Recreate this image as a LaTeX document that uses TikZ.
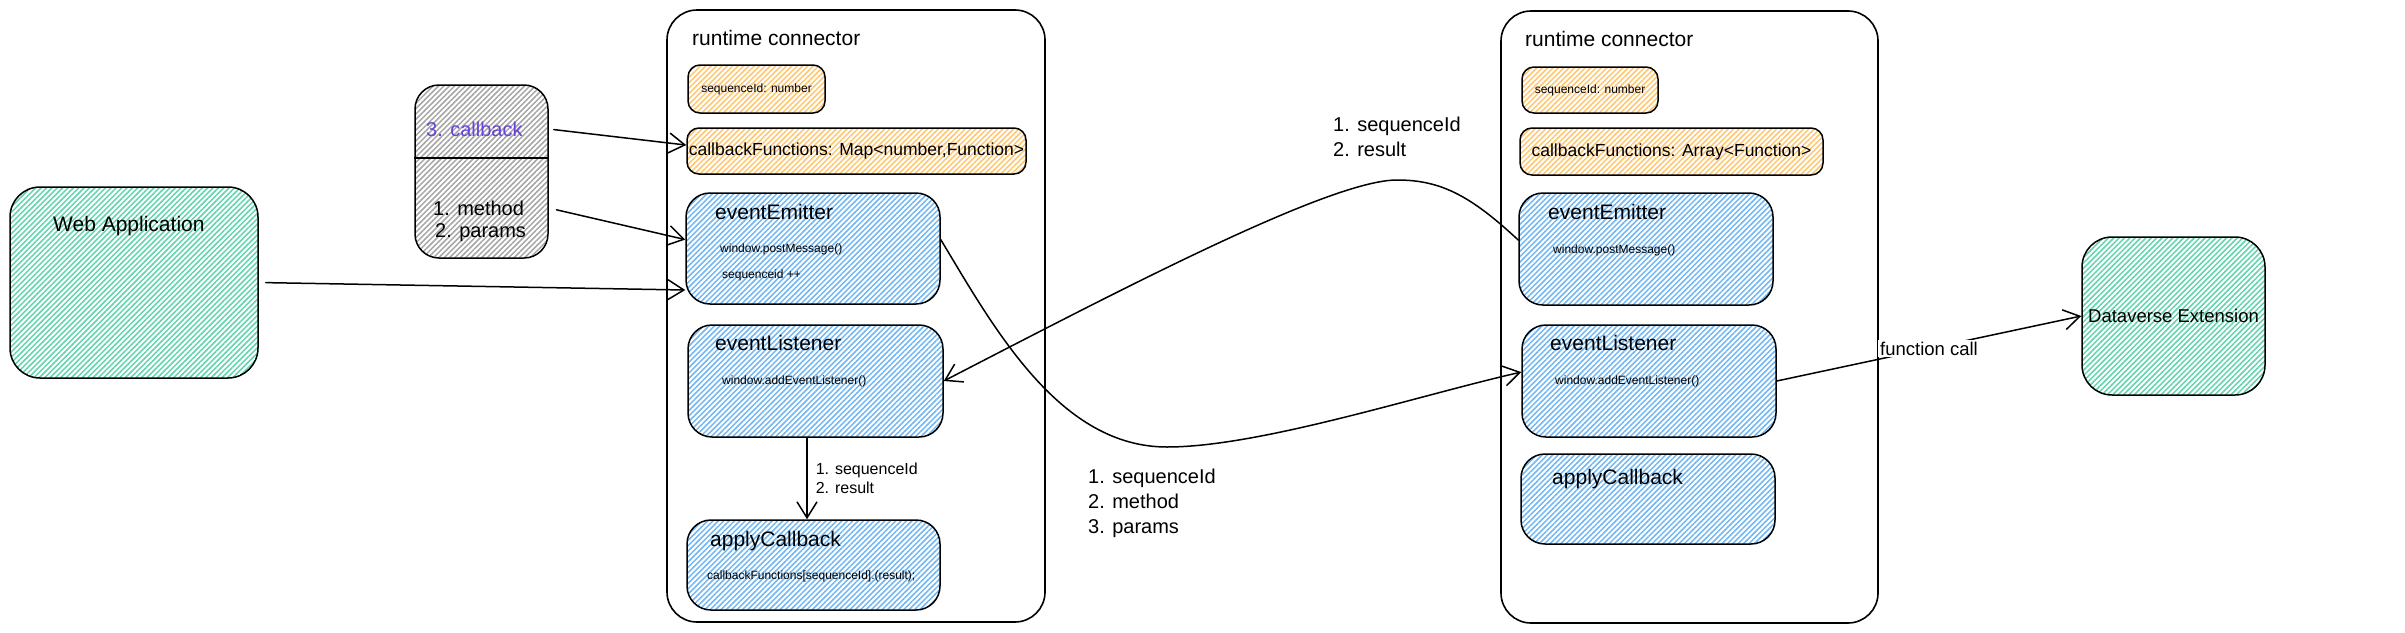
\documentclass[tikz,border=0pt]{standalone}
\usepackage{fontspec}
\setmainfont{Liberation Sans}
\usetikzlibrary{positioning, arrows.meta, patterns.meta}

\definecolor{hatchgreen}{RGB}{95,212,172}
\definecolor{hatchblue}{RGB}{112,182,243}
\definecolor{hatchorange}{RGB}{255,198,110}
\definecolor{hatchgrey}{RGB}{165,165,165}
\definecolor{cbpurple}{RGB}{103,65,217}

\newcommand{\titlefont}{\fontsize{21}{26}\selectfont}
\newcommand{\labelfont}{\fontsize{20}{25}\selectfont}
\newcommand{\fieldfont}{\fontsize{17.5}{21}\selectfont}
\newcommand{\midfont}{\fontsize{16}{19}\selectfont}
\newcommand{\codefont}{\fontsize{12}{15}\selectfont}

\tikzset{
	box/.style={draw, line width=1.5pt, rounded corners=22pt, inner sep=0pt},
	hatch/.style={pattern={Lines[angle=45,distance=3.8pt,line width=1.5pt]}, pattern color=#1},
	appbox/.style={box, hatch=hatchgreen, rounded corners=30pt},
	msgbox/.style={box, hatch=hatchgrey, rounded corners=24pt},
	fieldbox/.style={box, hatch=hatchorange, rounded corners=12pt, font=\fieldfont},
	funcbox/.style={box, hatch=hatchblue, rounded corners=24pt},
	connbox/.style={box, line width=1.6pt, rounded corners=30pt},
	txt/.style={inner sep=0pt, anchor=west, align=left},
	arr/.style={-{Straight Barb[length=16pt,width=20pt,line width=1.5pt]}, line width=1.5pt, line cap=round},
}

\begin{document}
\begin{tikzpicture}[x=1pt, y=-1pt]
	\useasboundingbox (0,0) rectangle (2405,632);

	% outside parties
	\node[appbox, minimum width=248pt, minimum height=191pt] (web) at (134,282.5) {};
	\node[txt, font=\titlefont] (webtitle) at (53,226) {Web Application};
	\node[appbox, minimum width=183pt, minimum height=158pt, font=\fontsize{18.5}{22}\selectfont] (dv) at (2173.5,316) {Dataverse Extension};

	% message passed in
	\node[msgbox, minimum width=133pt, minimum height=173pt] (msg) at (481.5,171.5) {};
	\draw[line width=1.5pt] (msg.west |- 0,158) -- (msg.east |- 0,158);
	\node[txt, font=\labelfont, text=cbpurple] (cbtxt) at (426,129) {3. callback};
	\node[txt, font=\labelfont] (mtxt) at (433,208) {1. method};
	\node[txt, font=\labelfont] (ptxt) at (435,233) {2. params};

	% runtime connector (web side)
	\node[connbox, minimum width=378pt, minimum height=612pt] (rcweb) at (856,316) {};
	\node[txt, font=\titlefont] (rcwebtitle) at (692,38) {runtime connector};
	\node[fieldbox, minimum width=137pt, minimum height=48pt, font=\codefont] (seqweb) at (756.5,89) {sequenceId: number};
	\node[fieldbox, minimum width=339pt, minimum height=46pt] (cbfweb) at (856.5,151) {callbackFunctions: Map<number,Function>};
	\node[funcbox, minimum width=254pt, minimum height=111pt] (emitweb) at (813,248.5) {};
	\node[txt, font=\titlefont] at (715,212) {eventEmitter};
	\node[txt, font=\codefont] at (720,249) {window.postMessage()};
	\node[txt, font=\codefont] at (722,275) {sequenceid ++};
	\node[funcbox, minimum width=255pt, minimum height=112pt] (lisweb) at (815.5,381) {};
	\node[txt, font=\titlefont] at (715,343) {eventListener};
	\node[txt, font=\codefont] at (722,381) {window.addEventListener()};
	\node[funcbox, minimum width=253pt, minimum height=90pt] (applyweb) at (813.5,565) {};
	\node[txt, font=\titlefont] at (710,541) {applyCallback};
	\node[txt, font=\codefont] at (707,576) {callbackFunctions[sequenceId].(result);};

	% runtime connector (extension side)
	\node[connbox, minimum width=377pt, minimum height=612pt] (rcext) at (1689.5,317) {};
	\node[txt, font=\titlefont] (rcexttitle) at (1525,39) {runtime connector};
	\node[fieldbox, minimum width=136pt, minimum height=46pt, font=\codefont] (seqext) at (1590,90) {sequenceId: number};
	\node[fieldbox, minimum width=303pt, minimum height=47pt] (cbfext) at (1671.5,151.5) {callbackFunctions: Array<Function>};
	\node[funcbox, minimum width=254pt, minimum height=112pt] (emitext) at (1646,249) {};
	\node[txt, font=\titlefont] at (1548,212) {eventEmitter};
	\node[txt, font=\codefont] at (1553,250) {window.postMessage()};
	\node[funcbox, minimum width=254pt, minimum height=112pt] (lisext) at (1649,381) {};
	\node[txt, font=\titlefont] at (1550,343) {eventListener};
	\node[txt, font=\codefont] at (1555,381) {window.addEventListener()};
	\node[funcbox, minimum width=254pt, minimum height=90pt] (applyext) at (1648,499) {};
	\node[txt, font=\titlefont] at (1552,479) {applyCallback};

	% labels on the message curves
	\node[txt, font=\labelfont] (reslbl) at (1333,137) {1. sequenceId\\2. result};
	\node[txt, font=\labelfont] (reqlbl) at (1088,503) {1. sequenceId\\2. method\\3. params};

	% connectors
	\draw[arr, shorten <=7pt] (web.east) -- (emitweb.198);
	\draw[arr, shorten <=5pt] (cbtxt.east -| msg.east) -- (cbfweb.178);
	\draw[arr, shorten <=8pt] (mtxt.east -| msg.east) -- (emitweb.176);
	\draw[arr] (emitweb.4) .. controls (995,330) and (1060,447) .. (1167,447)
		.. controls (1260,447) and (1420,395) .. (lisext.176);
	\draw[arr] (emitext.176) .. controls (1470,195) and (1440,180) .. (1397,180)
		.. controls (1330,180) and (1120,290) .. (lisweb.east);
	\draw[arr] (lisweb.south -| 807,0) -- (applyweb.north -| 807,0)
		node[midway, right=8pt, txt, font=\midfont] (fwdlbl) {1. sequenceId\\2. result};
	\draw[arr] (lisext.east) -- (dv.west)
		node[midway, fill=white, inner sep=2pt, font=\fontsize{18.5}{22}\selectfont] (calllbl) {function call};
\end{tikzpicture}
\end{document}
